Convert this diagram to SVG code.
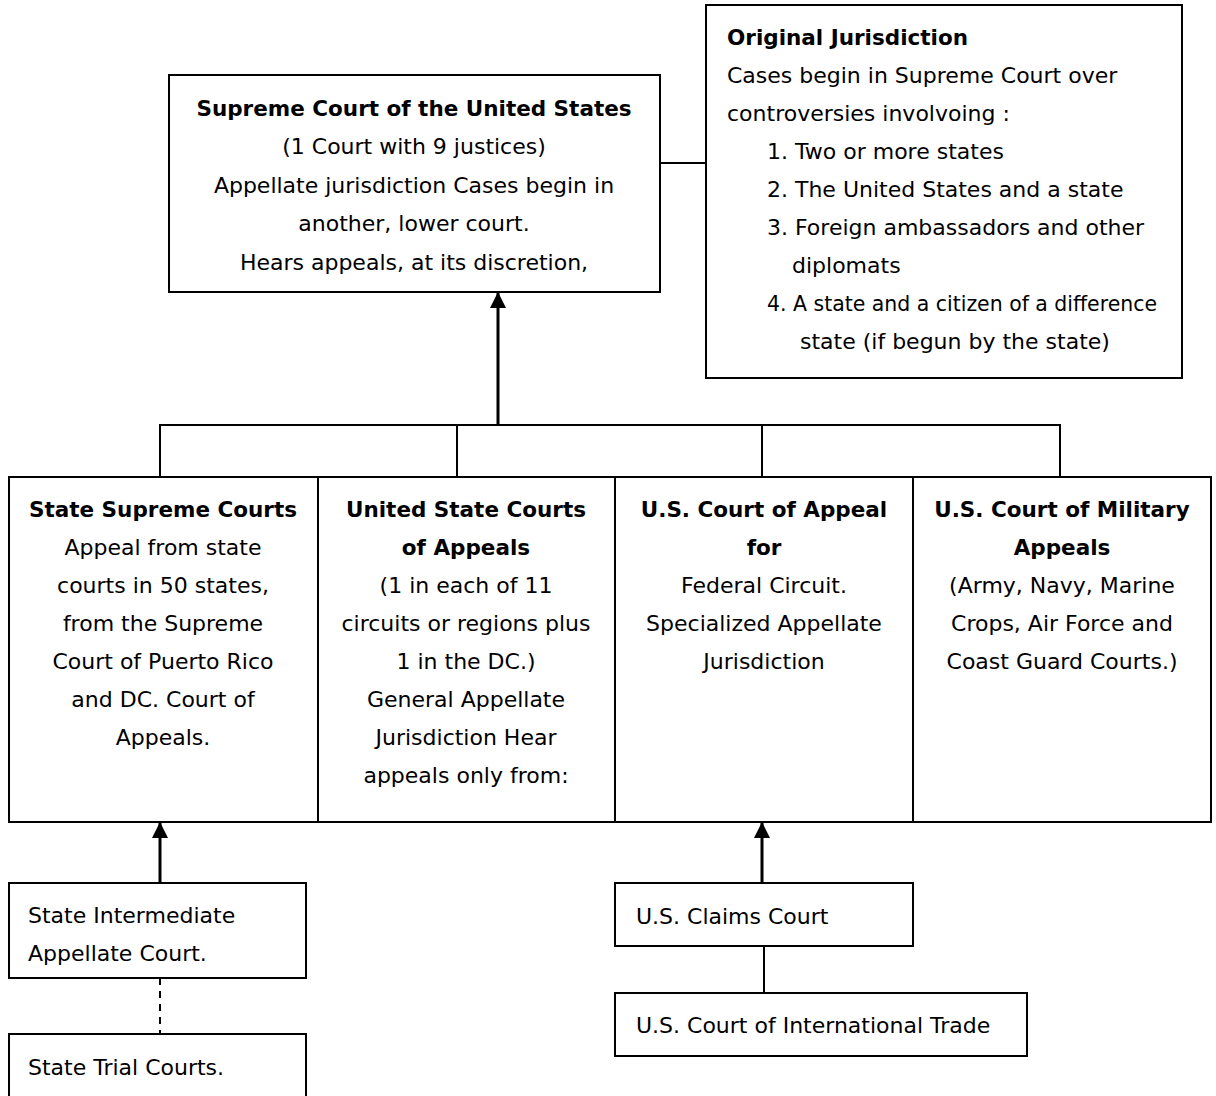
<svg xmlns="http://www.w3.org/2000/svg" width="1216" height="1096" viewBox="0 0 1216 1096">
<style>
.box{fill:#fff;stroke:#000;stroke-width:2}
.ln{fill:none;stroke:#000;stroke-width:2}
.arr{fill:none;stroke:#000;stroke-width:3}
.dash{fill:none;stroke:#000;stroke-width:2;stroke-dasharray:7,6}
text{font-family:"DejaVu Sans","Noto Sans",sans-serif;font-size:22px;fill:#000}
.b{font-weight:bold;font-size:21.5px}
.c{text-anchor:middle}
</style>
<defs>
<marker id="ah" markerWidth="16" markerHeight="16" viewBox="0 0 16 16" refX="15" refY="8" orient="auto" markerUnits="userSpaceOnUse">
<path d="M0,0 L16,8 L0,16 Z" fill="#000"/>
</marker>
</defs>
<g id="connectors">
<line class="ln" x1="660" y1="163" x2="706" y2="163"/>
<line class="arr" x1="498" y1="425" x2="498" y2="293" marker-end="url(#ah)"/>
<polyline class="ln" points="160,477 160,425 1060,425 1060,477"/>
<line class="ln" x1="457" y1="425" x2="457" y2="477"/>
<line class="ln" x1="762" y1="425" x2="762" y2="477"/>
<line class="arr" x1="160" y1="883" x2="160" y2="823" marker-end="url(#ah)"/>
<line class="dash" x1="160" y1="978" x2="160" y2="1034"/>
<line class="arr" x1="762" y1="883" x2="762" y2="823" marker-end="url(#ah)"/>
<line class="ln" x1="764" y1="946" x2="764" y2="993"/>
</g>
<g id="supreme">
<rect class="box" x="169" y="75" width="491" height="217"/>
<text class="b c" x="414" y="116">Supreme Court of the United States</text>
<text class="c" x="414" y="154">(1 Court with 9 justices)</text>
<text class="c" x="414" y="193">Appellate jurisdiction Cases begin in</text>
<text class="c" x="414" y="231">another, lower court.</text>
<text class="c" x="414" y="270">Hears appeals, at its discretion,</text>
</g>
<g id="original">
<rect class="box" x="706" y="5" width="476" height="373"/>
<text class="b" x="727" y="45">Original Jurisdiction</text>
<text x="727" y="83">Cases begin in Supreme Court over</text>
<text x="727" y="121">controversies involvoing :</text>
<text x="767" y="159">1. Two or more states</text>
<text x="767" y="197">2. The United States and a state</text>
<text x="767" y="235">3. Foreign ambassadors and other</text>
<text x="792" y="273">diplomats</text>
<text x="767" y="311" textLength="390" lengthAdjust="spacingAndGlyphs">4. A state and a citizen of a difference</text>
<text x="800" y="349">state (if begun by the state)</text>
</g>
<g id="state-supreme">
<rect class="box" x="9" y="477" width="309" height="345"/>
<text class="b c" x="163" y="517">State Supreme Courts</text>
<text class="c" x="163" y="555">Appeal from state</text>
<text class="c" x="163" y="593">courts in 50 states,</text>
<text class="c" x="163" y="631">from the Supreme</text>
<text class="c" x="163" y="669">Court of Puerto Rico</text>
<text class="c" x="163" y="707">and DC. Court of</text>
<text class="c" x="163" y="745">Appeals.</text>
</g>
<g id="us-courts-appeals">
<rect class="box" x="318" y="477" width="297" height="345"/>
<text class="b c" x="466" y="517">United State Courts</text>
<text class="b c" x="466" y="555">of Appeals</text>
<text class="c" x="466" y="593">(1 in each of 11</text>
<text class="c" x="466" y="631">circuits or regions plus</text>
<text class="c" x="466" y="669">1 in the DC.)</text>
<text class="c" x="466" y="707">General Appellate</text>
<text class="c" x="466" y="745">Jurisdiction Hear</text>
<text class="c" x="466" y="783">appeals only from:</text>
</g>
<g id="federal-circuit">
<rect class="box" x="615" y="477" width="298" height="345"/>
<text class="b c" x="764" y="517">U.S. Court of Appeal</text>
<text class="b c" x="764" y="555">for</text>
<text class="c" x="764" y="593">Federal Circuit.</text>
<text class="c" x="764" y="631">Specialized Appellate</text>
<text class="c" x="764" y="669">Jurisdiction</text>
</g>
<g id="military">
<rect class="box" x="913" y="477" width="298" height="345"/>
<text class="b c" x="1062" y="517">U.S. Court of Military</text>
<text class="b c" x="1062" y="555">Appeals</text>
<text class="c" x="1062" y="593">(Army, Navy, Marine</text>
<text class="c" x="1062" y="631">Crops, Air Force and</text>
<text class="c" x="1062" y="669">Coast Guard Courts.)</text>
</g>
<g id="state-intermediate">
<rect class="box" x="9" y="883" width="297" height="95"/>
<text x="28" y="923">State Intermediate</text>
<text x="28" y="961">Appellate Court.</text>
</g>
<g id="state-trial">
<rect class="box" x="9" y="1034" width="297" height="80"/>
<text x="28" y="1075">State Trial Courts.</text>
</g>
<g id="claims">
<rect class="box" x="615" y="883" width="298" height="63"/>
<text x="636" y="924">U.S. Claims Court</text>
</g>
<g id="intl-trade">
<rect class="box" x="615" y="993" width="412" height="63"/>
<text x="636" y="1033">U.S. Court of International Trade</text>
</g>
</svg>
